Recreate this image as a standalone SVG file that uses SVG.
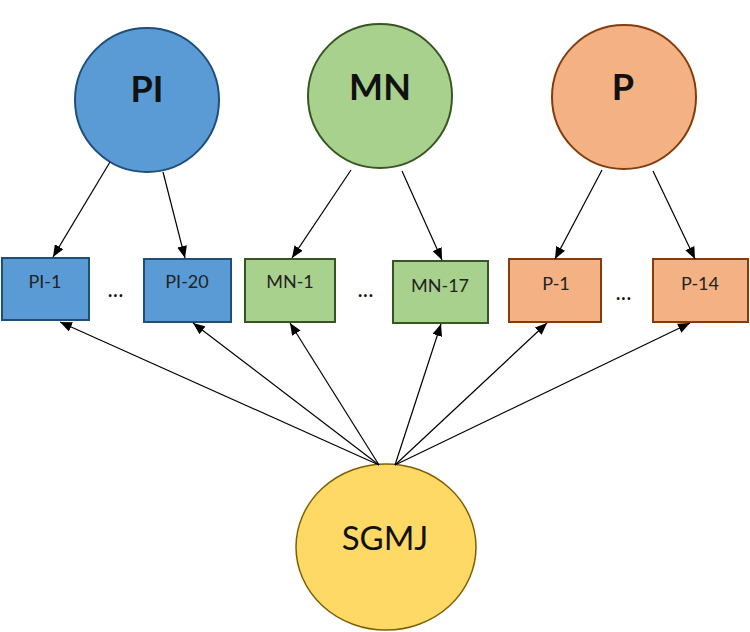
<svg xmlns="http://www.w3.org/2000/svg" width="750" height="632" viewBox="0 0 750 632">
<defs>
<marker id="ah" viewBox="0 0 12 10" refX="12" refY="5" markerWidth="12" markerHeight="10" markerUnits="userSpaceOnUse" orient="auto">
<path d="M0,0 L12,5 L0,10 z" fill="#000"/>
</marker>
<style>
.blue{fill:#5B9BD5;stroke:#1F4E79;stroke-width:2}
.green{fill:#A9D18E;stroke:#375623;stroke-width:2}
.orange{fill:#F4B183;stroke:#843C0C;stroke-width:2}
.yellow{fill:#FFD966;stroke:#7F6000;stroke-width:1.5}
.big{font-family:Lato,"Liberation Sans",sans-serif;font-weight:bold;font-size:36px;fill:#111;text-anchor:middle}
.lbl{font-family:Lato,"Liberation Sans",sans-serif;font-size:18px;fill:#222;text-anchor:middle}
.dots{font-family:Lato,"Liberation Sans",sans-serif;font-weight:bold;font-size:18px;fill:#111;text-anchor:middle;letter-spacing:1px}
.sg{font-family:Lato,"Liberation Sans",sans-serif;font-size:33px;fill:#111;text-anchor:middle}
.conn line{stroke:#000;stroke-width:1.2;marker-end:url(#ah)}
</style>
</defs>
<g id="node-PI"><circle class="blue" cx="147" cy="100" r="72"/><text class="big" x="147" y="102">PI</text></g>
<g id="node-MN"><circle class="green" cx="380" cy="96" r="72"/><text class="big" x="380" y="100">MN</text></g>
<g id="node-P"><circle class="orange" cx="624" cy="97" r="72"/><text class="big" x="623" y="100">P</text></g>
<g id="node-PI-1"><rect class="blue" x="2" y="258" width="87" height="62"/><text class="lbl" x="45" y="288">PI-1</text></g>
<g id="node-PI-20"><rect class="blue" x="144" y="259" width="87" height="63"/><text class="lbl" x="187" y="288">PI-20</text></g>
<g id="node-MN-1"><rect class="green" x="245" y="259" width="90" height="63"/><text class="lbl" x="290" y="288">MN-1</text></g>
<g id="node-MN-17"><rect class="green" x="393" y="261" width="95" height="62"/><text class="lbl" x="440" y="292">MN-17</text></g>
<g id="node-P-1"><rect class="orange" x="509" y="259" width="92" height="63"/><text class="lbl" x="556" y="290">P-1</text></g>
<g id="node-P-14"><rect class="orange" x="653" y="259" width="95" height="63"/><text class="lbl" x="700" y="290">P-14</text></g>
<g id="dots"><text class="dots" x="116" y="297">...</text><text class="dots" x="366" y="297">...</text><text class="dots" x="624" y="300">...</text></g>
<g id="node-SGMJ"><ellipse class="yellow" cx="386" cy="547" rx="90" ry="83"/><text class="sg" x="385" y="550">SGMJ</text></g>
<g id="connectors" class="conn">
<line x1="110" y1="162" x2="53" y2="257"/>
<line x1="163" y1="172" x2="185" y2="258"/>
<line x1="351" y1="170" x2="292" y2="258"/>
<line x1="402" y1="171" x2="442" y2="260"/>
<line x1="602" y1="170" x2="555" y2="259"/>
<line x1="653" y1="171" x2="695" y2="259"/>
<line x1="379" y1="465" x2="60" y2="322"/>
<line x1="379" y1="465" x2="193" y2="323"/>
<line x1="379" y1="465" x2="290" y2="323"/>
<line x1="395" y1="465" x2="441" y2="324"/>
<line x1="395" y1="465" x2="547" y2="323"/>
<line x1="395" y1="465" x2="690" y2="323"/>
</g>
</svg>
